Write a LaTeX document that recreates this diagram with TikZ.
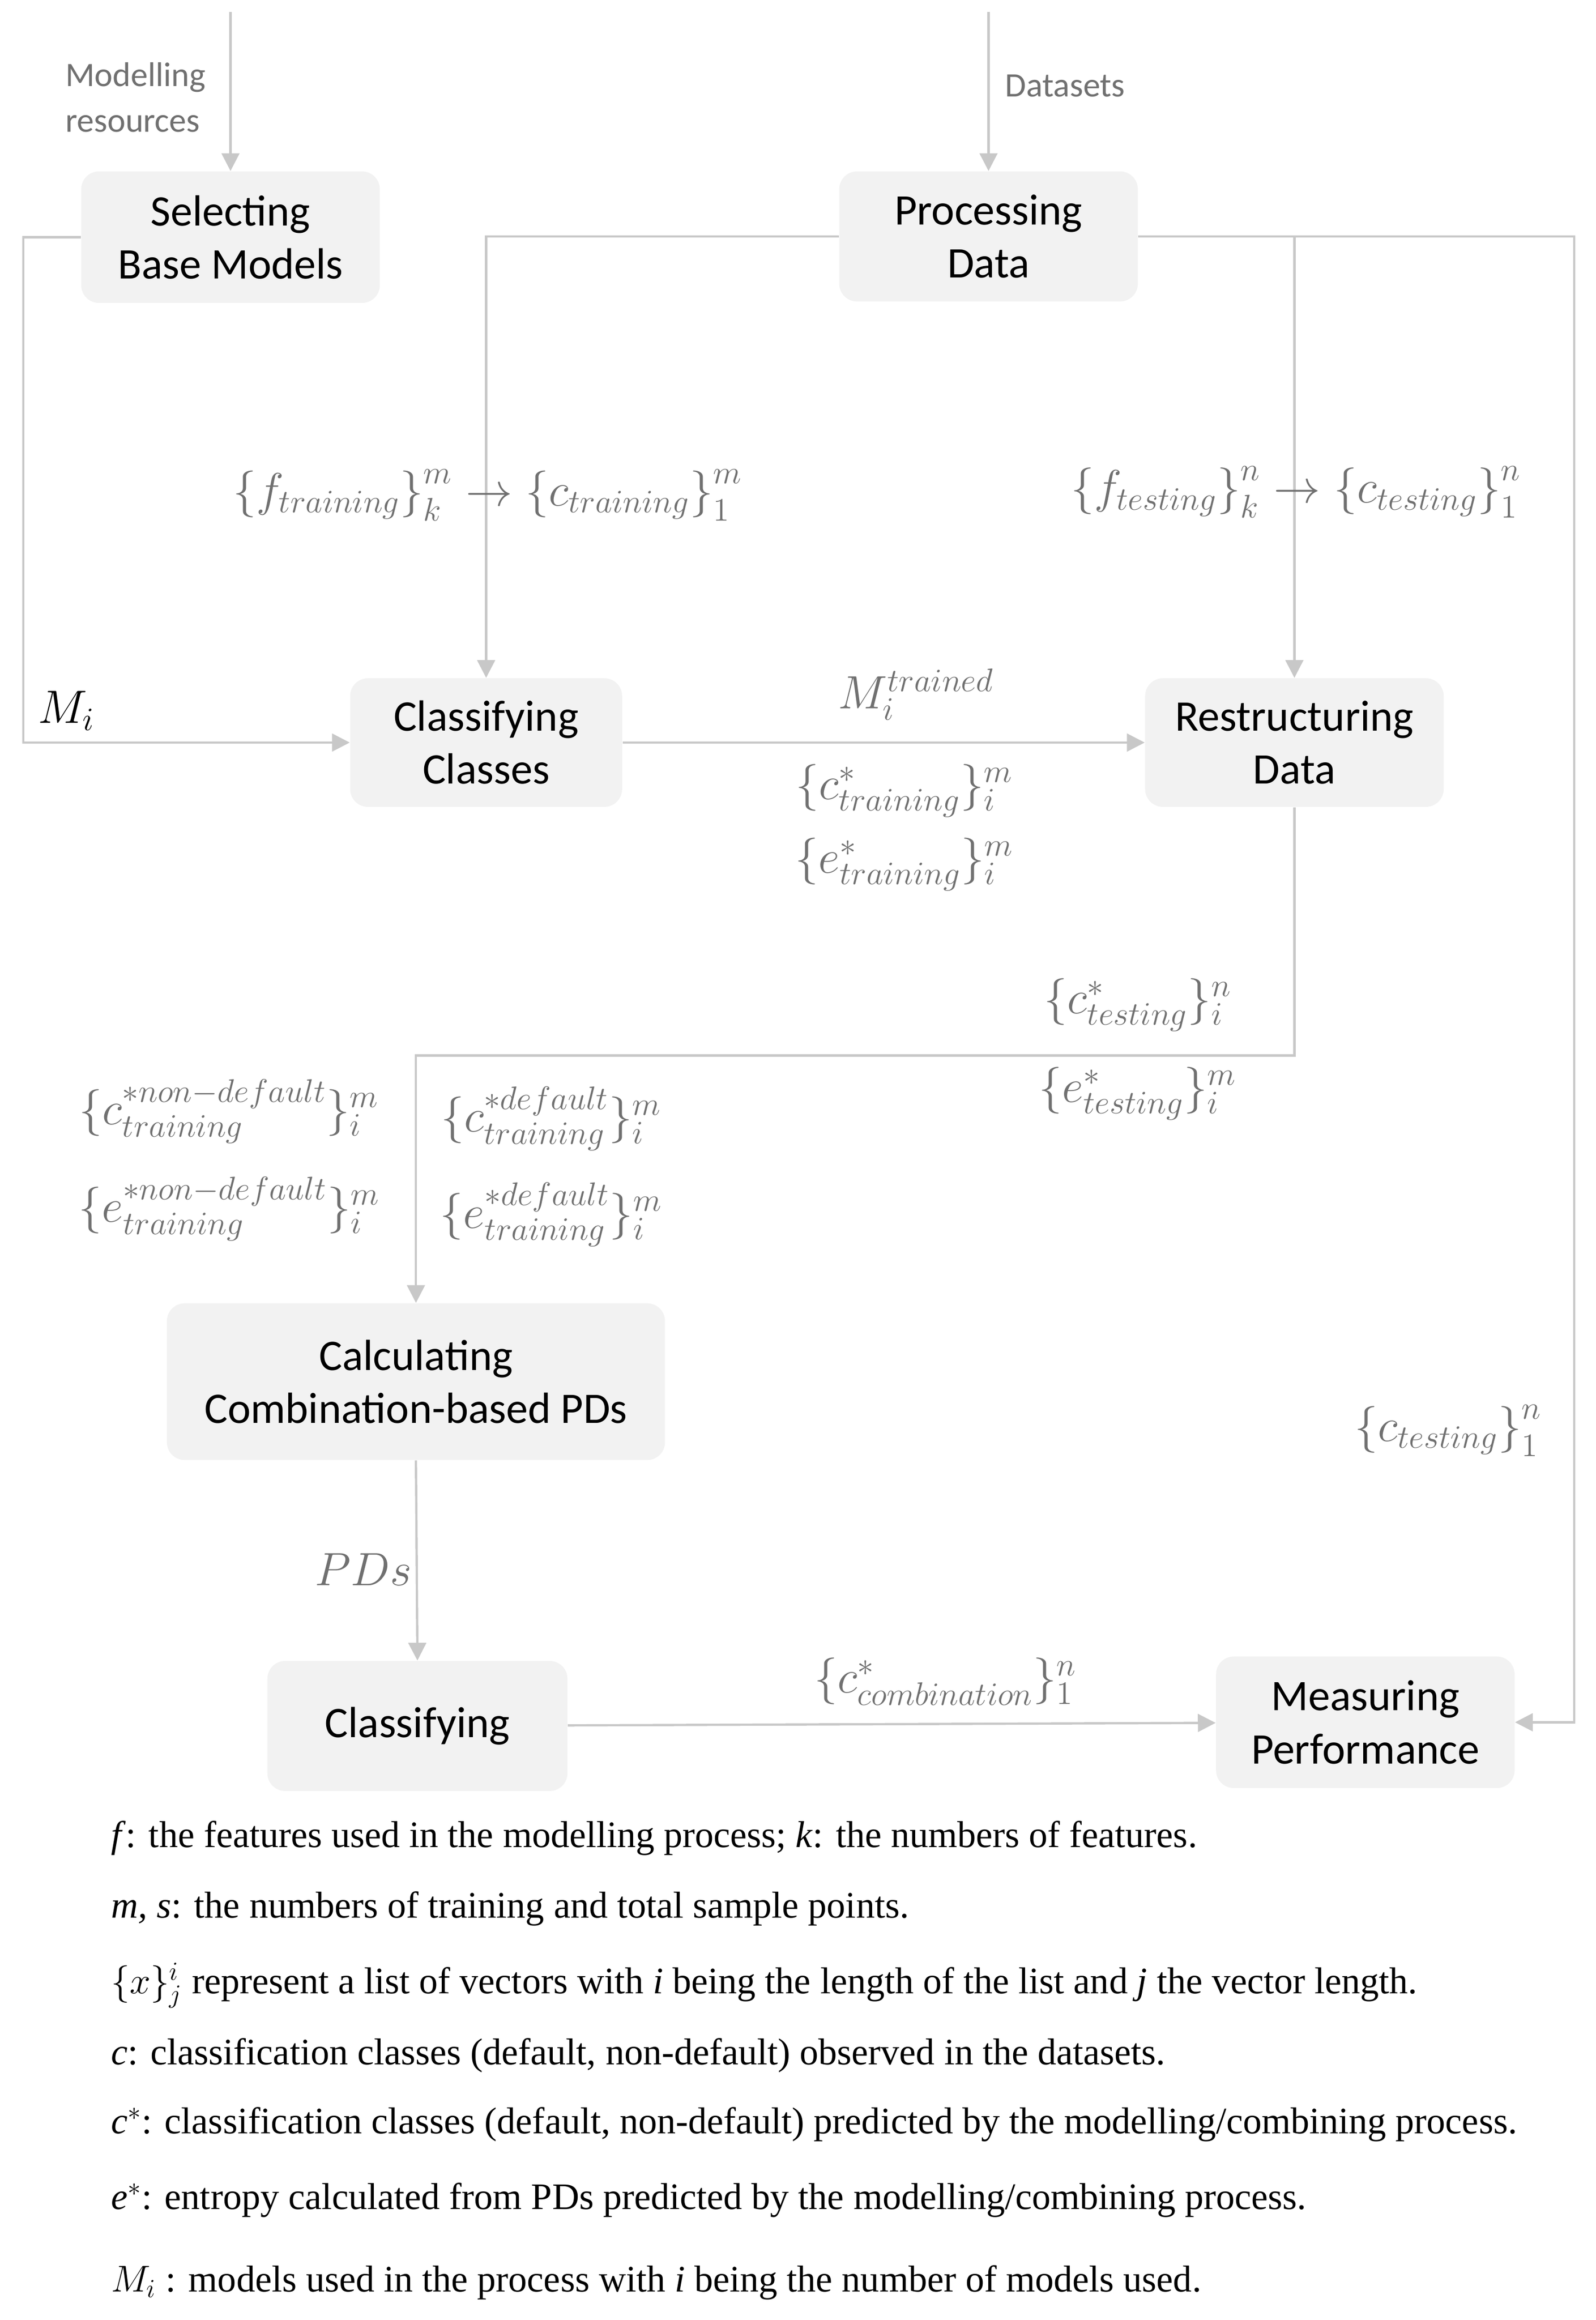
\documentclass[tikz,border=0pt]{standalone}
\usepackage{fix-cm}
\usepackage{amsmath}
\usepackage{fontspec}
\setmainfont{Liberation Serif}
\newfontfamily\boxfont{Carlito}
\usetikzlibrary{arrows.meta,shapes}
\definecolor{boxgray}{RGB}{242,242,242}
\definecolor{linegray}{RGB}{200,200,200}
\definecolor{labelgray}{RGB}{112,112,112}
\tikzstyle{stage}=[rectangle,rounded corners=0.3cm,fill=boxgray,align=center,inner sep=0pt,font=\boxfont\fontsize{21}{25.5}\selectfont]
\tikzstyle{flow} = [draw=linegray,line width=1.1pt,-{Triangle[length=0.3cm,width=0.3cm]}]
\tikzstyle{lbl}=[text=labelgray,inner sep=0pt,font=\fontsize{22.5}{26}\selectfont]
\tikzstyle{src}=[text=labelgray,inner sep=0pt,align=left,anchor=west,font=\boxfont\fontsize{16.5}{22}\selectfont]
\tikzstyle{note}=[anchor=base west,inner sep=0pt,font=\fontsize{18}{21}\selectfont]

\begin{document}
\begin{tikzpicture}[x=0.025cm,y=-0.025cm]
    \useasboundingbox (0,0) rectangle (1080,1570);
    % First we draw the process stages
    \foreach \pos/\name/\bw/\bh/\txt in {{(156,160.5)/sel/5.05/2.225/{Selecting\\Base Models}},
        {(669,160)/proc/5.05/2.2/{Processing\\Data}},
        {(329,502.5)/clc/4.6/2.175/{Classifying\\Classes}},
        {(876,502.5)/rst/5.05/2.175/{Restructuring\\Data}},
        {(281.5,935)/calc/8.425/2.65/{Calculating\\Combination-based PDs}},
        {(282.5,1168)/cls/5.075/2.2/{Classifying}},
        {(924,1165.5)/meas/5.05/2.225/{Measuring\\Performance}}}
        \node[stage,minimum width=\bw cm,minimum height=\bh cm] (\name) at \pos {\txt};

    % Inputs
    \coordinate (resin) at (156,8);
    \coordinate (datin) at (669,8);
    \node[src] (res) at (44,66) {Modelling\\resources};
    \node[src] (dat) at (680,58) {Datasets};

    % Connect stages with flows
    \path[flow] (resin) -- (sel);
    \path[flow] (datin) -- (proc);
    \path[flow] (sel.west) -- ++(-39,0) |- (clc.west);
    \path[flow] (proc.west) -| (clc.north);
    \path[flow] (proc.east) -| (rst.north);
    \path[flow] (proc.east) -- ++(295,0) |- (meas.east);
    \path[flow] (clc) -- (rst);
    \path[flow] (rst.south) -- ++(0,168) -| (calc.north);
    \path[flow] (calc.south) -- (cls.north);
    \path[flow] (cls) -- (meas);

    % Data passed along the flows
    \foreach \pos/\name/\txt in {{(330,335)/ftrain/{$\left\{f_{training}\right\}_k^m \rightarrow \left\{c_{training}\right\}_1^m$}},
        {(877,333)/ftest/{$\left\{f_{testing}\right\}_k^n \rightarrow \left\{c_{testing}\right\}_1^n$}},
        {(620,470)/mtrain/{$M_i^{trained}$}},
        {(612,535)/ctrain/{$\{c^*_{training}\}_i^m$}},
        {(612,585)/etrain/{$\{e^*_{training}\}_i^m$}},
        {(770,680)/ctest/{$\{c^*_{testing}\}_i^n$}},
        {(770,740)/etest/{$\{e^*_{testing}\}_i^m$}},
        {(155,752)/cnon/{$\{c^{*non-default}_{training}\}_i^m$}},
        {(155,818)/enon/{$\{e^{*non-default}_{training}\}_i^m$}},
        {(373,757)/cdef/{$\{c^{*default}_{training}\}_i^m$}},
        {(373,822)/edef/{$\{e^{*default}_{training}\}_i^m$}},
        {(980,968)/ctrue/{$\left\{c_{testing}\right\}_1^n$}},
        {(246,1062)/pds/{$PDs$}},
        {(640,1138)/ccomb/{$\{c^*_{combination}\}_1^n$}}}
        \node[lbl] (\name) at \pos {\txt};
    \node[lbl,text=black] (mi) at (45,481) {$M_i$};

    % Notation
    \foreach \y/\name/\txt in {1250/leg1/{\textit{f}: the features used in the modelling process; \textit{k}: the numbers of features.},
        1298/leg2/{\textit{m, s}: the numbers of training and total sample points.},
        1349/leg3/{$\{x\}_j^i$ represent a list of vectors with \textit{i} being the length of the list and \textit{j} the vector length.},
        1397/leg4/{\textit{c}: classification classes (default, non-default) observed in the datasets.},
        1444/leg5/{\textit{c}$^*$: classification classes (default, non-default) predicted by the modelling/combining process.},
        1495/leg6/{\textit{e}$^*$: entropy calculated from PDs predicted by the modelling/combining process.},
        1551/leg7/{$M_i$ : models used in the process with \textit{i} being the number of models used.}}
        \node[note] (\name) at (75,\y) {\txt};
\end{tikzpicture}
\end{document}
